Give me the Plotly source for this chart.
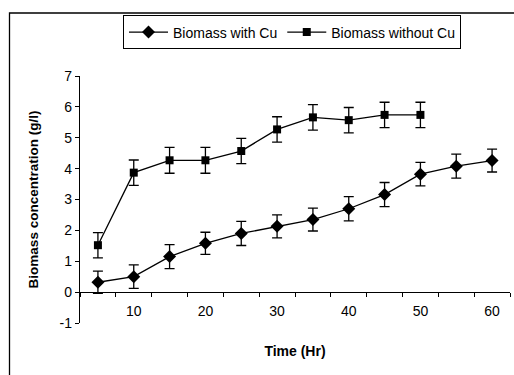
import plotly.graph_objects as go

time_hr = [5, 10, 15, 20, 25, 30, 35, 40, 45, 50, 55, 60]
with_cu = [0.32, 0.50, 1.15, 1.58, 1.90, 2.13, 2.35, 2.70, 3.16, 3.82, 4.08, 4.26]
with_cu_err = [0.36, 0.38, 0.39, 0.36, 0.39, 0.37, 0.37, 0.39, 0.39, 0.38, 0.39, 0.37]
time_no = [5, 10, 15, 20, 25, 30, 35, 40, 45, 50]
without_cu = [1.52, 3.87, 4.27, 4.27, 4.57, 5.27, 5.66, 5.57, 5.74, 5.74]
without_cu_err = [0.41, 0.41, 0.42, 0.42, 0.41, 0.41, 0.41, 0.41, 0.41, 0.41]
x_labels = [10, 20, 30, 40, 50, 60]
x_bounds = [2.5 + 5 * i for i in range(13)]
y_ticks = [-1, 0, 1, 2, 3, 4, 5, 6, 7]
y_ticktext = ["-1", "0", "1", "2", "3", "4", "5", "6", "7"]

FONT = "Liberation Sans, Arial, sans-serif"

fig = go.Figure()
fig.add_trace(go.Scatter(
    x=time_hr, y=with_cu, name="Biomass with Cu", mode="lines+markers",
    line=dict(color="black", width=1.3),
    marker=dict(symbol="diamond", size=10, color="black"),
    error_y=dict(type="data", array=with_cu_err, color="black", thickness=1.3, width=5),
))
fig.add_trace(go.Scatter(
    x=time_no, y=without_cu, name="Biomass without Cu", mode="lines+markers",
    line=dict(color="black", width=1.3),
    marker=dict(symbol="square", size=8, color="black"),
    error_y=dict(type="data", array=without_cu_err, color="black", thickness=1.3, width=5),
))

fig.update_layout(
    width=514, height=375,
    margin=dict(l=80, r=4, t=76, b=52, autoexpand=False),
    paper_bgcolor="white", plot_bgcolor="white",
    font=dict(family=FONT, size=14, color="black"),
    showlegend=True,
    legend=dict(
        orientation="h", x=0.1, y=1.245, xanchor="left", yanchor="top",
        bordercolor="black", borderwidth=1, bgcolor="white",
        font=dict(size=14), itemwidth=39, tracegroupgap=0,
    ),
    xaxis=dict(
        range=[2.5, 62.5], anchor="free", position=0.125, automargin=False,
        tickvals=x_labels, ticks="", showline=True, linecolor="black", linewidth=1.3,
        showgrid=False, zeroline=False, ticklabelstandoff=6,
        minor=dict(tickvals=x_bounds, ticks="outside", ticklen=4, tickcolor="black", tickwidth=1, showgrid=False),
        title=dict(text="<b>Time (Hr)</b>", font=dict(size=14), standoff=28),
    ),
    yaxis=dict(
        range=[-1, 7], tickvals=y_ticks, ticktext=y_ticktext, ticks="outside", ticklen=4,
        tickcolor="black", automargin=False,
        showline=True, linecolor="black", linewidth=1.3, showgrid=False, zeroline=False,
        title=dict(text="<b>Biomass concentration (g/l)</b>", font=dict(size=13.5), standoff=17),
    ),
    shapes=[dict(type="rect", xref="paper", yref="paper",
                 x0=(9.5 - 80) / 430, x1=(530 - 80) / 430,
                 y0=(323 - 390) / 247, y1=(323 - 13) / 247,
                 line=dict(color="black", width=1.3), fillcolor="rgba(0,0,0,0)", layer="below")],
)

fig.write_html("out.html", config={"displayModeBar": False},
               post_script="document.body.style.margin='0';")
